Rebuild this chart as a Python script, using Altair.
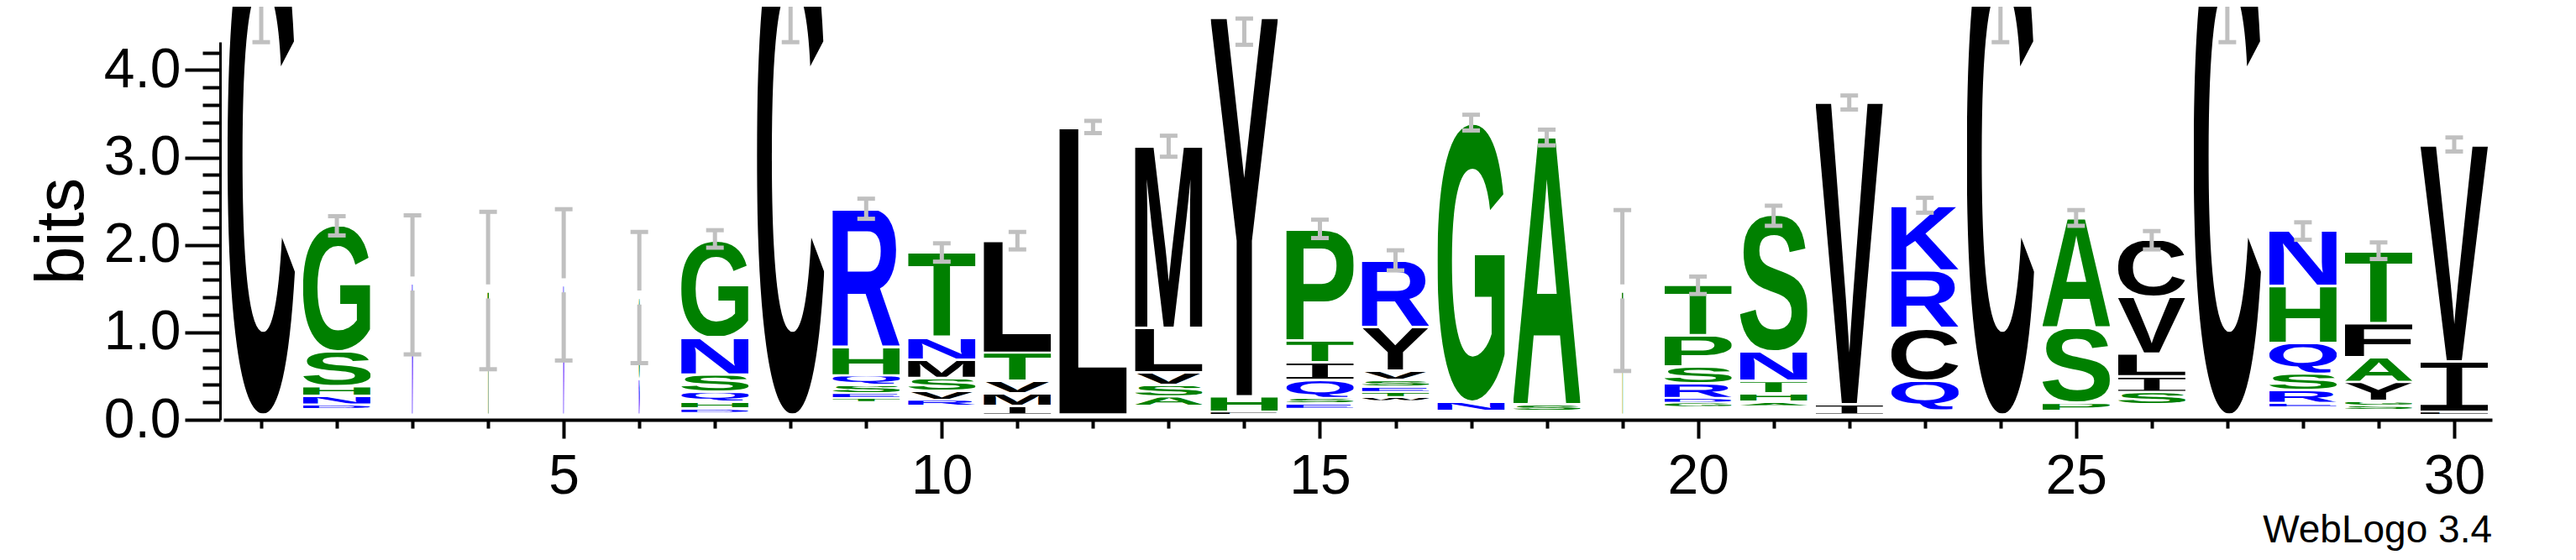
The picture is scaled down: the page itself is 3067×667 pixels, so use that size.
import base64
import glob
import os
import struct

import altair as alt
import pandas as pd

positions = list(range(1, 31))

# letters of each stack, bottom -> top ('.' = empty space at the stack bottom)
stack_letters = [
    "C", ".DNHSG", "N", "T", "N", "NG", ".DHQSNG", "C", ".TESQHR", ".RVSMNT",
    "IMVTL", "L", ".ASVLM", "FHY", ".ESQITP", ".WTESVYR", ".NG", ".SA", "T", ".GDRSPT",
    ".AHTNS", "IV", ".QCRK", "C", ".PSA", ".SILVC", "C", ".ERSQHN", ".SGYAFT", "LIV",
]
# heights (bits) of those letters, same order
stack_heights = [
    [5.86],
    [0.07, 0.045, 0.10, 0.11, 0.40, 1.44],
    [1.50],
    [1.41],
    [1.48],
    [0.41, 0.93],
    [0.025, 0.045, 0.08, 0.11, 0.20, 0.425, 1.12],
    [5.86],
    [0.15, 0.04, 0.055, 0.095, 0.11, 0.32, 1.58],
    [0.10, 0.07, 0.105, 0.145, 0.21, 0.255, 0.97],
    [0.10, 0.145, 0.145, 0.32, 1.28],
    [3.28],
    [0.10, 0.11, 0.13, 0.145, 0.51, 2.07],
    [0.03, 0.18, 4.33],
    [0.07, 0.06, 0.06, 0.21, 0.20, 0.25, 1.27],
    [0.16, 0.045, 0.058, 0.058, 0.077, 0.105, 0.50, 0.76],
    [0.04, 0.11, 3.18],
    [0.04, 0.08, 3.05],
    [1.41],
    [0.09, 0.05, 0.05, 0.17, 0.19, 0.36, 0.58],
    [0.10, 0.045, 0.10, 0.14, 0.34, 1.56],
    [0.12, 3.45],
    [0.05, 0.34, 0.60, 0.66, 0.74],
    [5.86],
    [0.045, 0.09, 0.86, 1.25],
    [0.12, 0.14, 0.18, 0.26, 0.65, 0.65],
    [5.86],
    [0.085, 0.05, 0.15, 0.185, 0.35, 0.65, 0.64],
    [0.055, 0.05, 0.05, 0.22, 0.28, 0.39, 0.82],
    [0.03, 0.58, 2.47],
]
# stack width as a fraction of one position (mostly-gap columns are thin)
stack_widths = [
    0.89, 0.89, 0.02, 0.02, 0.02, 0.02, 0.89, 0.89, 0.89, 0.89,
    0.89, 0.89, 0.89, 0.89, 0.89, 0.89, 0.89, 0.89, 0.02, 0.89,
    0.89, 0.89, 0.89, 0.89, 0.89, 0.89, 0.89, 0.89, 0.89, 0.89,
]
# error bars (bits)
err_low = [
    4.26, 2.05, 0.69, 0.52, 0.62, 0.59, 1.91, 4.26, 2.24, 1.75,
    1.89, 3.22, 2.95, 4.23, 2.02, 1.65, 3.25, 3.08, 0.50, 1.38,
    2.16, 3.49, 2.31, 4.26, 2.16, 1.89, 4.26, 2.00, 1.78, 3.01,
]
err_high = [
    7.46, 2.27, 2.28, 2.32, 2.35, 2.09, 2.11, 7.46, 2.47, 1.96,
    2.09, 3.36, 3.19, 4.53, 2.23, 1.88, 3.43, 3.26, 2.34, 1.58,
    2.39, 3.65, 2.48, 7.46, 2.34, 2.10, 7.46, 2.20, 1.97, 3.17,
]
y_tick_values = [0.0, 0.2, 0.4, 0.6, 0.8, 1.0, 1.2, 1.4, 1.6, 1.8, 2.0,
                 2.2, 2.4, 2.6, 2.8, 3.0, 3.2, 3.4, 3.6, 3.8, 4.0, 4.2]

# hydrophobicity colour scheme
hydrophilic = "RKDENQ"
neutral = "SGHTAP"
hydrophobic = "YVMCLFIW"
color_of = {}
for ch in hydrophilic:
    color_of[ch] = "#0000ff"
for ch in neutral:
    color_of[ch] = "#008000"
for ch in hydrophobic:
    color_of[ch] = "#000000"

# ---------------- layout constants ----------------
PLOT_W, PLOT_H = 2701, 450
Y_MAX = 4.32
PAD = {"left": 258, "top": 42, "right": 92, "bottom": 159}
VIEW_TOP = Y_MAX + PAD["top"] * Y_MAX / PLOT_H  # value at the very top of the drawing
BASE = 0.058        # stacks start slightly above the axis line
THIN_BAR_GAP = 0.08  # error bars of thin stacks are broken around the stack top

# ---------------- glyph metrics (for stretching letters to their box) ----------------
SANS = "Liberation Sans"
MONO = "Liberation Mono"


def _find(fname):
    for root in ["/usr/share/fonts", "/usr/local/share/fonts", os.path.expanduser("~/.fonts")]:
        hits = glob.glob(os.path.join(root, "**", fname), recursive=True)
        if hits:
            return hits[0]
    return None


def _bboxes(path, chars):
    data = open(path, "rb").read()
    ntab = struct.unpack(">H", data[4:6])[0]
    tabs = {}
    for i in range(ntab):
        tag, _cs, off, ln = struct.unpack(">4sIII", data[12 + 16 * i:28 + 16 * i])
        tabs[tag.decode("latin1")] = off
    head = tabs["head"]
    upem = struct.unpack(">H", data[head + 18:head + 20])[0]
    iloc = struct.unpack(">h", data[head + 50:head + 52])[0]
    cmap = tabs["cmap"]
    nsub = struct.unpack(">H", data[cmap + 2:cmap + 4])[0]
    sub = None
    for i in range(nsub):
        pid, eid, off = struct.unpack(">HHI", data[cmap + 4 + 8 * i:cmap + 12 + 8 * i])
        if pid == 3 and eid == 1:
            sub = cmap + off
    seg2 = struct.unpack(">H", data[sub + 6:sub + 8])[0]
    seg = seg2 // 2
    ends = struct.unpack(">%dH" % seg, data[sub + 14:sub + 14 + seg2])
    so = sub + 16 + seg2
    starts = struct.unpack(">%dH" % seg, data[so:so + seg2])
    do = so + seg2
    deltas = struct.unpack(">%dh" % seg, data[do:do + seg2])
    ro = do + seg2
    ros = struct.unpack(">%dH" % seg, data[ro:ro + seg2])

    def gid(c):
        code = ord(c)
        for i in range(seg):
            if ends[i] >= code:
                if starts[i] > code:
                    return 0
                if ros[i] == 0:
                    return (code + deltas[i]) & 0xFFFF
                a = ro + 2 * i + ros[i] + 2 * (code - starts[i])
                g = struct.unpack(">H", data[a:a + 2])[0]
                return (g + deltas[i]) & 0xFFFF if g else 0
        return 0

    loca, glyf = tabs["loca"], tabs["glyf"]

    def goff(g):
        if iloc == 0:
            return struct.unpack(">H", data[loca + 2 * g:loca + 2 * g + 2])[0] * 2
        return struct.unpack(">I", data[loca + 4 * g:loca + 4 * g + 4])[0]

    out = {}
    for c in chars:
        o = glyf + goff(gid(c))
        _n, x0, y0, x1, y1 = struct.unpack(">hhhhh", data[o:o + 10])
        out[c] = (x0, x1, y0, y1, upem)
    return out


FALLBACK = {
    "A": (0, 1479, 0, 1466), "C": (90, 1386, -25, 1491), "D": (150, 1386, 0, 1466),
    "E": (150, 1260, 0, 1466), "F": (150, 1150, 0, 1466), "G": (90, 1480, -25, 1491),
    "H": (150, 1329, 0, 1466), "K": (150, 1479, 0, 1466), "L": (150, 1190, 0, 1466),
    "M": (145, 1561, 0, 1466), "N": (148, 1329, 0, 1466), "P": (150, 1275, 0, 1466),
    "Q": (84, 1540, -120, 1491), "R": (150, 1479, 0, 1466), "S": (70, 1290, -25, 1491),
    "T": (40, 1210, 0, 1466), "V": (0, 1366, 0, 1466), "W": (0, 1933, 0, 1466),
    "Y": (0, 1366, 0, 1466),
}
letters_used = sorted(set("".join(stack_letters).replace(".", "")))
metrics = {}
try:
    sans_path = _find("LiberationSans-Bold.ttf")
    mono_path = _find("LiberationMono-Regular.ttf")
    sb = _bboxes(sans_path, [c for c in letters_used if c != "I"])
    mb = _bboxes(mono_path, ["I"])
    for c in letters_used:
        if c == "I":
            metrics[c] = (MONO, "normal") + mb["I"]
        else:
            metrics[c] = (SANS, "bold") + sb[c]
except Exception:
    for c in letters_used:
        if c == "I":
            metrics[c] = (MONO, "normal", 250, 980, 0, 1200, 2048)
        else:
            metrics[c] = (SANS, "bold") + FALLBACK[c] + (2048,)


def letter_url(ch, visible=1.0):
    """Glyph stretched to its box; only the lower `visible` fraction is kept."""
    font, weight, x0, x1, y0, y1, upem = metrics[ch]
    w = x1 - x0
    h = (y1 - y0) * visible
    top = y0 + h  # font units, y up
    svg = (
        "<svg xmlns='http://www.w3.org/2000/svg' viewBox='%d %.1f %d %.1f' "
        "preserveAspectRatio='none' width='%d' height='%d'>"
        "<text x='0' y='0' font-family='%s' font-weight='%s' font-size='%d' fill='%s'>%s</text></svg>"
        % (x0, -top, w, h, w, max(1, round(h)), font, weight, upem, color_of[ch], ch)
    )
    return "data:image/svg+xml;base64," + base64.b64encode(svg.encode("utf-8")).decode("ascii")


rows = []
stack_tops = []
for pos, letters, heights, wfrac in zip(positions, stack_letters, stack_heights, stack_widths):
    cum = 0.0
    for ch, h in zip(letters, heights):
        if ch != ".":
            gap = min(0.013, h * 0.15)
            lo = BASE + cum + gap
            hi = BASE + cum + h - gap
            visible = 1.0
            if hi > VIEW_TOP:  # keep only the part that is on the page
                visible = (VIEW_TOP - lo) / (hi - lo)
                hi = VIEW_TOP
            rows.append({
                "pos": pos, "letter": ch,
                "x0": pos - wfrac / 2, "x1": pos + wfrac / 2,
                "y0": lo, "y1": hi,
                "url": letter_url(ch, visible),
            })
        cum += h
    stack_tops.append(BASE + cum)
letters_df = pd.DataFrame(rows)

bar_rows = []
for pos, lo, hi, top, wfrac in zip(positions, err_low, err_high, stack_tops, stack_widths):
    lo_v, hi_v = BASE + lo, min(BASE + hi, VIEW_TOP)
    if wfrac < 0.1:
        bar_rows.append({"pos": pos, "lo": lo_v, "hi": top - THIN_BAR_GAP})
        bar_rows.append({"pos": pos, "lo": top + THIN_BAR_GAP, "hi": hi_v})
    else:
        bar_rows.append({"pos": pos, "lo": lo_v, "hi": hi_v})
err_df = pd.DataFrame(bar_rows)

cap_df = pd.DataFrame({
    "pos": positions + positions,
    "val": [BASE + v for v in err_low] + [BASE + v for v in err_high],
})
cap_df = cap_df[cap_df["val"] < VIEW_TOP]

# ---------------- chart ----------------
FONT = "Liberation Sans"
GREY = "#c0c0c0"
is_int = "abs(datum.value - round(datum.value)) < 0.001"
is_five = "datum.value % 5 === 0"

xscale = alt.Scale(domain=[0.5, 30.5], nice=False, zero=False)
yscale = alt.Scale(domain=[0, Y_MAX], nice=False, zero=False)

xaxis = alt.Axis(
    values=positions, title=None, grid=False,
    labelExpr="datum.value % 5 === 0 ? datum.label : ''",
    tickSize={"condition": {"test": is_five, "value": 22}, "value": 10},
    tickWidth=4, tickColor="black", domainWidth=4, domainColor="black",
    labelFont=FONT, labelFontSize=66, labelColor="black", labelPadding=13,
    labelOverlap=False, labelFlush=False,
)
yaxis = alt.Axis(
    values=y_tick_values, title="bits", grid=False, offset=4,
    labelExpr="abs(datum.value - round(datum.value)) < 0.001 ? format(datum.value, '.1f') : ''",
    tickSize={"condition": {"test": is_int, "value": 42}, "value": 21},
    tickWidth=4, tickColor="black", domainWidth=3, domainColor="black",
    labelFont=FONT, labelFontSize=66, labelColor="black", labelPadding=5,
    labelOverlap=False, labelFlush=False,
    titleFont=FONT, titleFontSize=82, titleFontWeight="normal", titleColor="black",
    titlePadding=8,
)

letters = alt.Chart(letters_df).mark_image(aspect=False).encode(
    x=alt.X("x0:Q", scale=xscale, axis=xaxis),
    x2=alt.X2("x1"),
    y=alt.Y("y0:Q", scale=yscale, axis=yaxis),
    y2=alt.Y2("y1"),
    url=alt.Url("url:N"),
)

bars = alt.Chart(err_df).mark_rule(color=GREY, strokeWidth=5).encode(
    x=alt.X("pos:Q", scale=xscale, axis=xaxis),
    y=alt.Y("lo:Q", scale=yscale, axis=yaxis),
    y2=alt.Y2("hi"),
)

caps = alt.Chart(cap_df).mark_tick(
    orient="horizontal", size=21, thickness=5, color=GREY, opacity=1
).encode(
    x=alt.X("pos:Q", scale=xscale, axis=xaxis),
    y=alt.Y("val:Q", scale=yscale, axis=yaxis),
)

chart = (
    alt.layer(letters, bars, caps)
    .properties(
        width=PLOT_W,
        height=PLOT_H,
        autosize=alt.AutoSizeParams(type="none"),
        padding=PAD,
        title=alt.TitleParams(
            "WebLogo 3.4", orient="bottom", anchor="end", fontSize=46,
            font=FONT, fontWeight="normal", color="black", offset=10,
        ),
    )
    .configure(background="white")
    .configure_view(stroke=None)
)

chart.save("out.html", embed_options={"renderer": "svg", "actions": False})
